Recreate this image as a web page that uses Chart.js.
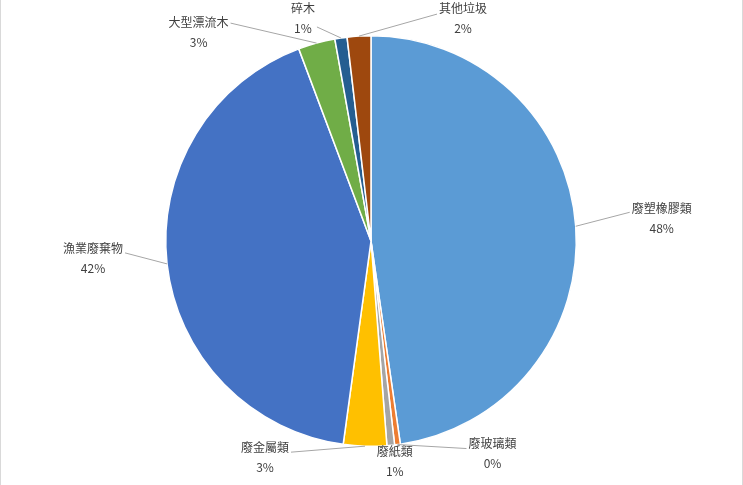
<!DOCTYPE html>
<html>
<head>
<meta charset="utf-8">
<script src="https://cdn.jsdelivr.net/npm/chart.js@4/dist/chart.umd.min.js"></script>
<style>
  html, body { margin: 0; padding: 0; background: #fff; }
  #wrap { width: 743px; height: 485px; }
</style>
</head>
<body>
<div id="wrap"><canvas id="pie" width="743" height="485"></canvas></div>
<script>
const categories = ["廢塑橡膠類", "廢玻璃類", "廢紙類", "廢金屬類", "漁業廢棄物", "大型漂流木", "碎木", "其他垃圾"];
const shares = [47.7, 0.45, 0.6, 3.4, 42.1, 2.9, 0.96, 1.86];
const colors = ["#5B9BD5", "#ED7D31", "#A5A5A5", "#FFC000", "#4472C4", "#70AD47", "#255E91", "#9E480E"];

// label block centre relative to the slice's outer mid point (Excel moved a few by hand),
// third value = where the leader line meets the box, below the first text line
const labelOffsets = [
  [86, -8, 4], [95, 9, 5], [4, 16, 4], [-100, 11, 5],
  [-74, -5, 4], [-118, -11, 1], [-38, -20, 19], [104, -18, 6]
];

const FONT = '12px "Noto Sans CJK TC", "Noto Sans", sans-serif';
const LINE_GAP = 20;

const excelLabels = {
  id: "excelLabels",
  afterDatasetsDraw(chart) {
    const ctx = chart.ctx;
    const arcs = chart.getDatasetMeta(0).data;
    const total = shares.reduce((a, b) => a + b, 0);
    ctx.save();
    ctx.font = FONT;
    ctx.textAlign = "center";
    ctx.textBaseline = "middle";
    arcs.forEach((arc, i) => {
      const { x, y, startAngle, endAngle, outerRadius } = arc.getProps(["x", "y", "startAngle", "endAngle", "outerRadius"], true);
      const mid = (startAngle + endAngle) / 2;
      const ax = x + Math.cos(mid) * outerRadius;
      const ay = y + Math.sin(mid) * outerRadius;
      const [dx, dy, attach] = labelOffsets[i];
      const lx = ax + dx;
      const ly = ay + dy;
      const pct = Math.round(shares[i] / total * 100) + "%";
      const w = Math.max(ctx.measureText(categories[i]).width, ctx.measureText(pct).width) + 4;
      const y1 = ly - LINE_GAP / 2;
      const y2 = ly + LINE_GAP / 2;

      // leader line to the side of the label box
      if (ax < lx - w / 2 || ax > lx + w / 2) {
        const ex = ax < lx ? lx - w / 2 : lx + w / 2;
        ctx.strokeStyle = "#A6A6A6";
        ctx.lineWidth = 1;
        ctx.beginPath();
        ctx.moveTo(ax, ay);
        ctx.lineTo(ex, y1 + attach);
        ctx.stroke();
      }
      ctx.fillStyle = "#404040";
      ctx.fillText(categories[i], lx, y1);
      ctx.fillText(pct, lx, y2);
    });
    // faint chart-area edges
    ctx.strokeStyle = "#D9D9D9";
    ctx.beginPath();
    ctx.moveTo(0.5, 0); ctx.lineTo(0.5, chart.height);
    ctx.moveTo(chart.width - 0.5, 0); ctx.lineTo(chart.width - 0.5, chart.height);
    ctx.stroke();
    ctx.restore();
  }
};

new Chart(document.getElementById("pie"), {
  type: "pie",
  data: {
    labels: categories,
    datasets: [{
      data: shares,
      backgroundColor: colors,
      borderColor: "#FFFFFF",
      borderWidth: 1.5
    }]
  },
  options: {
    responsive: false,
    animation: false,
    layout: { padding: { top: 35, bottom: 38, left: 0, right: 1 } },
    plugins: {
      legend: { display: false },
      tooltip: { enabled: false }
    }
  },
  plugins: [excelLabels]
});
</script>
</body>
</html>
